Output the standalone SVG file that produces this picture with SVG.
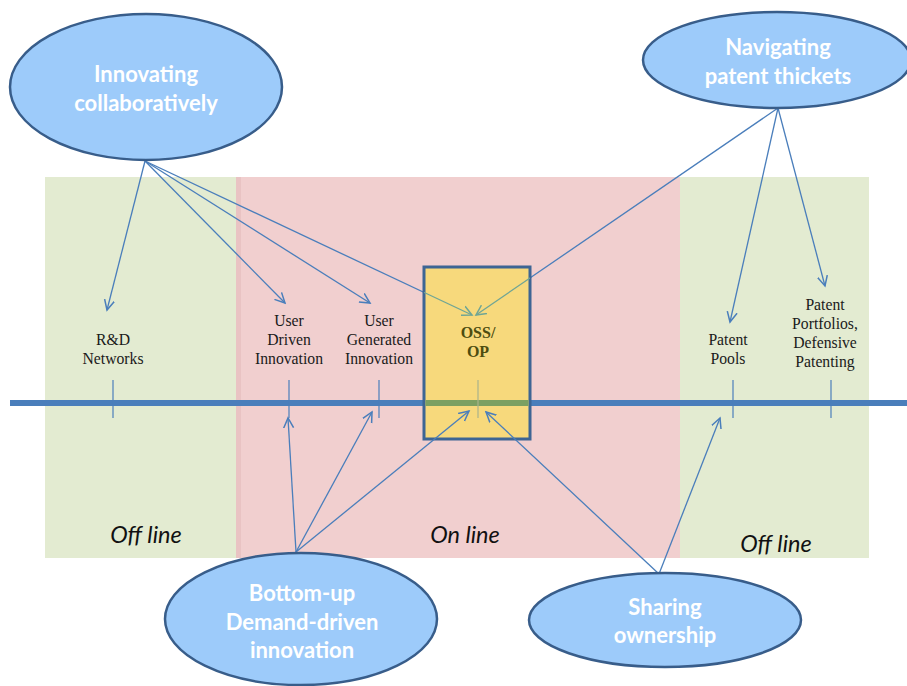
<svg xmlns="http://www.w3.org/2000/svg" width="907" height="686" viewBox="0 0 907 686">
<style>
.ell{fill:#9dcbfa;stroke:#385d8a;stroke-width:2.5}
.et{font-family:Lato,"Liberation Sans",sans-serif;font-weight:bold;font-size:22px;fill:#fff;text-anchor:middle}
.lb{font-family:"Liberation Serif","Times New Roman",serif;font-size:15.7px;fill:#1a1a1a;text-anchor:middle}
.zone{font-family:Lato,"Liberation Sans",sans-serif;font-style:italic;font-size:23.5px;fill:#111;text-anchor:middle}
.tick{stroke:#4a7ebb;stroke-width:1.2}
.con{stroke:#4a7ebb;stroke-width:1.3;fill:none}
</style>
<defs>
<marker id="arr" markerWidth="12" markerHeight="12" refX="10" refY="5" orient="auto" markerUnits="userSpaceOnUse" viewBox="0 0 12 10">
<path d="M0,0 L10,5 L0,10" fill="none" stroke="#4a7ebb" stroke-width="1.5"/>
</marker>
<marker id="arrg" markerWidth="12" markerHeight="12" refX="10" refY="5" orient="auto" markerUnits="userSpaceOnUse" viewBox="0 0 12 10">
<path d="M0,0 L10,5 L0,10" fill="none" stroke="#6fa595" stroke-width="1.5"/>
</marker>
<clipPath id="boxclip"><rect x="424" y="267" width="106" height="172"/></clipPath>
</defs>
<g id="background">
<rect x="45" y="177" width="191" height="381" fill="#e3ebd1"/>
<rect x="236" y="177" width="444" height="381" fill="#f1cfcf"/>
<rect x="236" y="177" width="5" height="381" fill="#e9c3c3"/>
<rect x="680" y="177" width="189" height="381" fill="#e3ebd1"/>
</g>
<g id="axis">
<line x1="10" y1="403" x2="907" y2="403" stroke="#4a7ebb" stroke-width="6"/>
<line class="tick" x1="113" y1="380" x2="113" y2="418"/>
<line class="tick" x1="289" y1="380" x2="289" y2="418"/>
<line class="tick" x1="379" y1="380" x2="379" y2="418"/>
<line class="tick" x1="733" y1="380" x2="733" y2="418"/>
<line class="tick" x1="831" y1="380" x2="831" y2="418"/>
</g>
<g id="connectors-top">
<line class="con" x1="145" y1="161" x2="107" y2="310" marker-end="url(#arr)"/>
<line class="con" x1="145" y1="161" x2="285" y2="303" marker-end="url(#arr)"/>
<line class="con" x1="145" y1="161" x2="370" y2="303" marker-end="url(#arr)"/>
<line class="con" x1="145" y1="161" x2="472" y2="315" marker-end="url(#arr)"/>
<line class="con" x1="778" y1="108" x2="476" y2="315" marker-end="url(#arr)"/>
<line class="con" x1="778" y1="108" x2="730" y2="322" marker-end="url(#arr)"/>
<line class="con" x1="778" y1="108" x2="825" y2="286" marker-end="url(#arr)"/>
</g>
<g id="oss-op">
<rect x="424" y="267" width="106" height="172" fill="#f7d97c" stroke="#3d6594" stroke-width="3"/>
<g clip-path="url(#boxclip)">
<line x1="425.5" y1="403" x2="528.5" y2="403" stroke="#7ba062" stroke-width="6"/>
<line x1="478" y1="380" x2="478" y2="418" stroke="#a9b38c" stroke-width="1.2"/>
<line x1="145" y1="161" x2="472" y2="315" stroke="#6fa595" stroke-width="1.3" marker-end="url(#arrg)"/>
<line x1="778" y1="108" x2="476" y2="315" stroke="#6fa595" stroke-width="1.3" marker-end="url(#arrg)"/>
</g>
<text x="478" y="338" font-family="'Liberation Serif',serif" font-weight="bold" font-size="16" fill="#4d4d10" text-anchor="middle">OSS/</text>
<text x="478" y="357" font-family="'Liberation Serif',serif" font-weight="bold" font-size="16" fill="#4d4d10" text-anchor="middle">OP</text>
</g>
<g id="connectors-bottom">
<line class="con" x1="296" y1="552" x2="288" y2="418" marker-end="url(#arr)"/>
<line class="con" x1="296" y1="552" x2="372" y2="412" marker-end="url(#arr)"/>
<line class="con" x1="296" y1="552" x2="469" y2="411" marker-end="url(#arr)"/>
<line class="con" x1="659" y1="574" x2="486" y2="412" marker-end="url(#arr)"/>
<line class="con" x1="659" y1="574" x2="720" y2="418" marker-end="url(#arr)"/>
</g>
<g id="labels">
<g id="rd-networks"><text class="lb" x="113" y="345">R&amp;D</text><text class="lb" x="113" y="364">Networks</text></g>
<g id="user-driven"><text class="lb" x="289" y="326">User</text><text class="lb" x="289" y="345">Driven</text><text class="lb" x="289" y="364">Innovation</text></g>
<g id="user-generated"><text class="lb" x="379" y="326">User</text><text class="lb" x="379" y="345">Generated</text><text class="lb" x="379" y="364">Innovation</text></g>
<g id="patent-pools"><text class="lb" x="728" y="345">Patent</text><text class="lb" x="728" y="364">Pools</text></g>
<g id="patent-portfolios"><text class="lb" x="825" y="310">Patent</text><text class="lb" x="825" y="329">Portfolios,</text><text class="lb" x="825" y="348">Defensive</text><text class="lb" x="825" y="367">Patenting</text></g>
</g>
<g id="zones">
<text class="zone" x="146" y="543">Off line</text>
<text class="zone" x="465" y="543">On line</text>
<text class="zone" x="776" y="552">Off line</text>
</g>
<g id="innovating-collaboratively">
<ellipse class="ell" cx="146" cy="87" rx="136" ry="73"/>
<text class="et" x="146" y="82">Innovating</text>
<text class="et" x="146" y="111">collaboratively</text>
</g>
<g id="navigating-patent-thickets">
<ellipse class="ell" cx="777" cy="60" rx="134" ry="48"/>
<text class="et" x="778" y="55">Navigating</text>
<text class="et" x="778" y="84">patent thickets</text>
</g>
<g id="bottom-up">
<ellipse class="ell" cx="301" cy="619" rx="136" ry="66"/>
<text class="et" x="302" y="601">Bottom-up</text>
<text class="et" x="302" y="630">Demand-driven</text>
<text class="et" x="302" y="658">innovation</text>
</g>
<g id="sharing-ownership">
<ellipse class="ell" cx="665" cy="620" rx="136" ry="47"/>
<text class="et" x="665" y="615">Sharing</text>
<text class="et" x="665" y="643">ownership</text>
</g>
</svg>
